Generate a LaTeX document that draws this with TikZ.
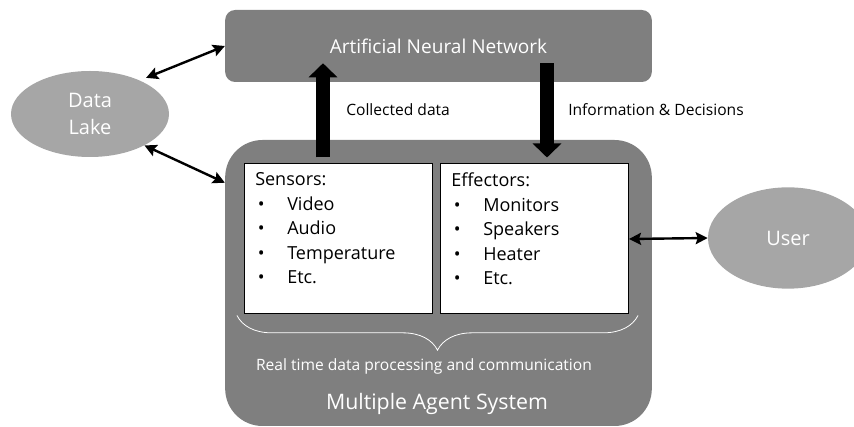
\documentclass[tikz,border=0pt]{standalone}
\usepackage{fontspec}
\setmainfont{Open Sans}
\usepackage{tikz}
\usetikzlibrary{arrows.meta}
\usetikzlibrary{calc}
\usetikzlibrary{decorations.pathreplacing}
\usetikzlibrary{positioning}
\usetikzlibrary{shapes}
\definecolor{darkgrey}{RGB}{127, 127, 127}
\definecolor{lightgrey}{RGB}{166, 166, 166}
\newcommand{\itm}[1]{\makebox[24pt][l]{\hspace{2pt}\textbullet}#1}
\tikzset{
    arrow/.style={{Stealth[length=9pt,width=9pt,inset=1.5pt]}-{Stealth[length=9pt,width=9pt,inset=1.5pt]}, line width=1.8pt},
    bigarrow/.style={-{Triangle[length=10.5pt,width=21pt]}, line width=10pt},
    greybox/.style = {
      rectangle,
      rounded corners=7.5pt,
      fill=darkgrey,
      text=white,
      inner sep=0pt
    },
    blob/.style = {
      ellipse,
      fill=lightgrey,
      text=white,
      align=center,
      inner sep=0pt,
      font=\fontsize{15}{20}\selectfont
    },
    panel/.style = {
      rectangle,
      draw=black,
      fill=white,
      line width=0.75pt,
      minimum width=141pt,
      minimum height=112.5pt,
      inner sep=0pt
    },
    paneltext/.style = {anchor=north west, align=left, inner sep=0pt, font=\fontsize{13.5}{18.4}\selectfont},
    note/.style = {anchor=west, inner sep=0pt, font=\fontsize{11.7}{14}\selectfont},
    brace/.style = {decorate, decoration={brace, amplitude=26pt}, draw=white, line width=0.6pt},
}

\begin{document}
\begin{tikzpicture}[x=0.75pt, y=-0.75pt]
      \useasboundingbox (0,0) rectangle (854,427);
      \clip (0,0) rectangle (854,427);

      \node[greybox, minimum width=320pt, minimum height=54pt, font=\fontsize{14.3}{17}\selectfont] (ann) at (438.5,46) {Artificial Neural Network\hspace{19pt}};
      \node[greybox, rounded corners=28pt, minimum width=320pt, minimum height=214.5pt] (mas) at (438.5,283) {};

      \node[panel] (sensors) at (338.5,239) {};
      \node[panel, right=5.25pt of sensors] (effectors) {};

      \node[paneltext] (sensorlist) at ($(sensors.north west)+(11,9)$) {Sensors:\\\itm{Video}\\\itm{Audio}\\\itm{Temperature}\\\itm{Etc.}};
      \node[paneltext] (effectorlist) at ($(effectors.north west)+(11,9)$) {Effectors:\\\itm{Monitors}\\\itm{Speakers}\\\itm{Heater}\\\itm{Etc.}};

      \node[blob, minimum width=118.5pt, minimum height=64.5pt] (datalake) at (90,114) {Data\\Lake};
      \node[blob, minimum width=120pt, minimum height=76pt] (user) at (788,238) {User};

      \draw[bigarrow] ($(sensors.north)+(-15.5,-6)$) -- ($(sensors.north |- ann.south)+(-15.5,-19)$);
      \draw[bigarrow] ($(effectors.north |- ann.south)+(12.5,-19)$) -- ($(effectors.north)+(12.5,-6)$);
      \node[note] (collected) at (346,110) {Collected data};
      \node[note] (decisions) at (568,110) {Information \& Decisions};

      \draw[arrow, shorten <=5pt] (datalake.34) -- (ann.west);
      \draw[arrow] (datalake.330) -- ($(mas.north west)+(0,43)$);
      \draw[arrow] (effectors.east) -- (user.west);

      \draw[brace] ($(effectors.south east)+(9,1)$) -- ($(sensors.south west)+(-7,1)$);
      \node[note, anchor=center, text=white] (realtime) at (424,366) {Real time data processing and communication};
      \node[text=white, inner sep=0pt, font=\fontsize{16}{19}\selectfont] (masname) at (437,404) {Multiple Agent System};
\end{tikzpicture}
\end{document}
